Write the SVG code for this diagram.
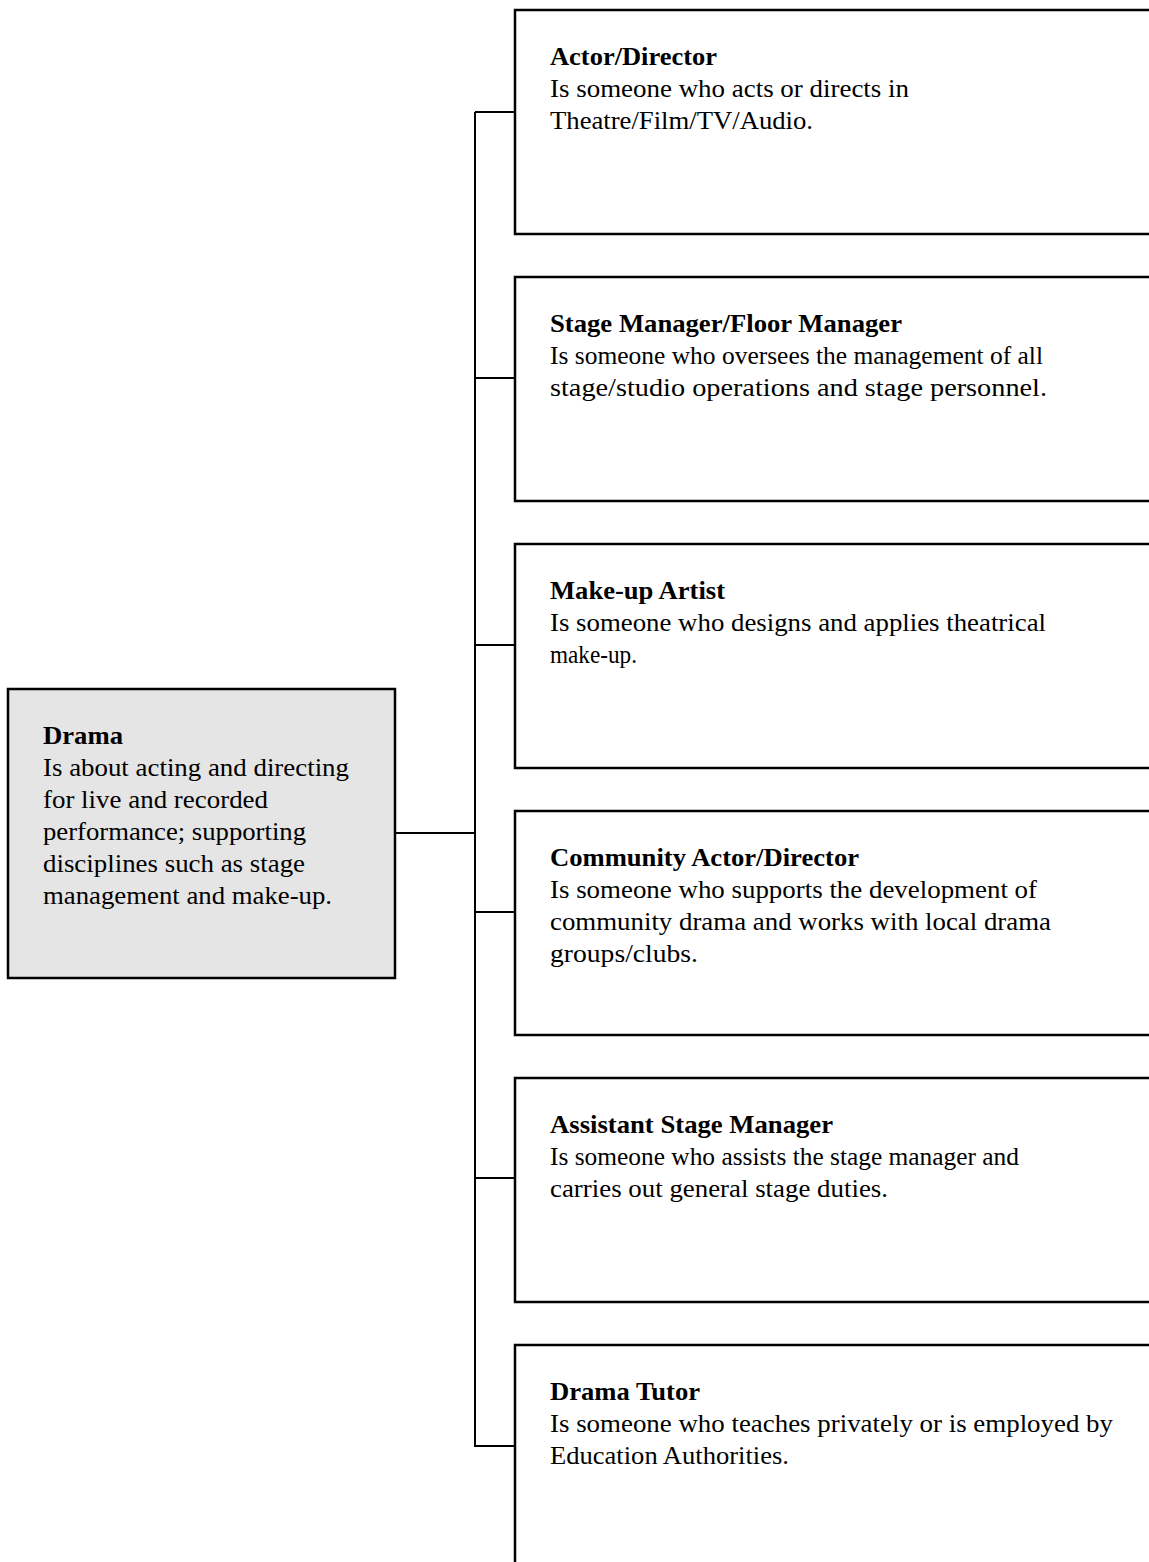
<svg xmlns="http://www.w3.org/2000/svg" width="1149" height="1562" viewBox="0 0 1149 1562">
<style>
.box{fill:#ffffff;stroke:#000;stroke-width:2.5}
.root{fill:#e5e5e5;stroke:#000;stroke-width:2.5}
.conn{fill:none;stroke:#000;stroke-width:2}
text{font-family:"Liberation Serif","Times New Roman",serif;font-size:26px;fill:#000}
.t{font-weight:bold}
</style>
<rect width="1149" height="1562" fill="#fff"/>
<g id="connectors">
<path class="conn" d="M395,833 H475 M475,112 V1447 M475,112 H515 M475,378 H515 M475,645 H515 M475,912 H515 M475,1178 H515 M475,1446 H515"/>
</g>
<g id="drama">
<rect class="root" x="8" y="689" width="387" height="289"/>
<text class="t" x="43" y="744" textLength="80" lengthAdjust="spacingAndGlyphs">Drama</text>
<text x="43" y="776" textLength="306" lengthAdjust="spacingAndGlyphs">Is about acting and directing</text>
<text x="43" y="808" textLength="225" lengthAdjust="spacingAndGlyphs">for live and recorded</text>
<text x="43" y="840" textLength="263" lengthAdjust="spacingAndGlyphs">performance; supporting</text>
<text x="43" y="872" textLength="262" lengthAdjust="spacingAndGlyphs">disciplines such as stage</text>
<text x="43" y="904" textLength="289" lengthAdjust="spacingAndGlyphs">management and make-up.</text>
</g>
<g id="actor-director">
<rect class="box" x="515" y="10" width="650" height="224"/>
<text class="t" x="550" y="65" textLength="167" lengthAdjust="spacingAndGlyphs">Actor/Director</text>
<text x="550" y="97" textLength="359" lengthAdjust="spacingAndGlyphs">Is someone who acts or directs in</text>
<text x="550" y="129" textLength="263" lengthAdjust="spacingAndGlyphs">Theatre/Film/TV/Audio.</text>
</g>
<g id="stage-manager">
<rect class="box" x="515" y="277" width="650" height="224"/>
<text class="t" x="550" y="332" textLength="352" lengthAdjust="spacingAndGlyphs">Stage Manager/Floor Manager</text>
<text x="550" y="364" textLength="493" lengthAdjust="spacingAndGlyphs">Is someone who oversees the management of all</text>
<text x="550" y="396" textLength="497" lengthAdjust="spacingAndGlyphs">stage/studio operations and stage personnel.</text>
</g>
<g id="make-up-artist">
<rect class="box" x="515" y="544" width="650" height="224"/>
<text class="t" x="550" y="599" textLength="175" lengthAdjust="spacingAndGlyphs">Make-up Artist</text>
<text x="550" y="631" textLength="496" lengthAdjust="spacingAndGlyphs">Is someone who designs and applies theatrical</text>
<text x="550" y="663" textLength="87" lengthAdjust="spacingAndGlyphs">make-up.</text>
</g>
<g id="community-actor-director">
<rect class="box" x="515" y="811" width="650" height="224"/>
<text class="t" x="550" y="866" textLength="309" lengthAdjust="spacingAndGlyphs">Community Actor/Director</text>
<text x="550" y="898" textLength="487" lengthAdjust="spacingAndGlyphs">Is someone who supports the development of</text>
<text x="550" y="930" textLength="501" lengthAdjust="spacingAndGlyphs">community drama and works with local drama</text>
<text x="550" y="962" textLength="148" lengthAdjust="spacingAndGlyphs">groups/clubs.</text>
</g>
<g id="assistant-stage-manager">
<rect class="box" x="515" y="1078" width="650" height="224"/>
<text class="t" x="550" y="1133" textLength="283" lengthAdjust="spacingAndGlyphs">Assistant Stage Manager</text>
<text x="550" y="1165" textLength="469" lengthAdjust="spacingAndGlyphs">Is someone who assists the stage manager and</text>
<text x="550" y="1197" textLength="338" lengthAdjust="spacingAndGlyphs">carries out general stage duties.</text>
</g>
<g id="drama-tutor">
<rect class="box" x="515" y="1345" width="650" height="260"/>
<text class="t" x="550" y="1400" textLength="150" lengthAdjust="spacingAndGlyphs">Drama Tutor</text>
<text x="550" y="1432" textLength="563" lengthAdjust="spacingAndGlyphs">Is someone who teaches privately or is employed by</text>
<text x="550" y="1464" textLength="239" lengthAdjust="spacingAndGlyphs">Education Authorities.</text>
</g>
</svg>
